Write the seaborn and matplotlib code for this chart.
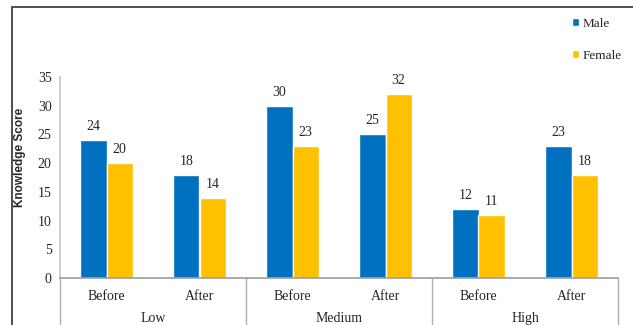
import matplotlib
matplotlib.use("Agg")
import matplotlib.pyplot as plt
import seaborn as sns
import pandas as pd
from matplotlib.patches import Rectangle

groups = ["Low", "Medium", "High"]
phases = ["Before", "After"]
male = [24, 18, 30, 25, 12, 23]
female = [20, 14, 23, 32, 11, 18]
y_ticks = [0, 5, 10, 15, 20, 25, 30, 35]

cats = [f"{g}-{p}" for g in groups for p in phases]
df = pd.DataFrame({
    "cat": cats * 2,
    "score": male + female,
    "sex": ["Male"] * 6 + ["Female"] * 6,
})

sns.set_theme(style="white")
plt.rcParams["font.family"] = ["Liberation Serif", "DejaVu Serif"]

fig = plt.figure(figsize=(6.33, 3.25), dpi=100)
ax = fig.add_axes([60 / 633, (325 - 278) / 325, (618 - 60) / 633, (278 - 77) / 325])

sns.barplot(data=df, x="cat", y="score", hue="sex", order=cats,
            hue_order=["Male", "Female"], palette=["#0070C0", "#FFC000"],
            width=0.56, gap=0, ax=ax, legend=True, saturation=1)

ax.set_ylim(0, 35)
ax.set_yticks(y_ticks)
ax.set_yticklabels([str(t) for t in y_ticks], fontsize=10)
ax.set_xlim(-0.5, 5.5)
ax.set_xticks(range(6))
ax.set_xticklabels(phases * 3, fontsize=10)
ax.tick_params(axis="both", length=0, pad=6)
ax.tick_params(axis="x", pad=9)
ax.set_xlabel("")
ax.set_ylabel("")
for s in ["top", "right"]:
    ax.spines[s].set_visible(False)
ax.spines["left"].set_color("#c8c8c8")
ax.spines["bottom"].set_color("#a0a0a0")

for cont in ax.containers:
    ax.bar_label(cont, fontsize=10, padding=5)

# group separators and labels
for xs in [-0.5, 1.5, 3.5, 5.5]:
    ax.plot([xs, xs], [0, -0.35], transform=ax.get_xaxis_transform(),
            color="#b0b0b0", lw=1, clip_on=False)
for i, g in enumerate(groups):
    ax.text(2 * i + 0.5, -0.2, g, transform=ax.get_xaxis_transform(),
            ha="center", va="center", fontsize=10)

leg = ax.legend(loc="upper left", bbox_to_anchor=(560 / 633, 1 - 6 / 325),
                bbox_transform=fig.transFigure, frameon=False,
                handlelength=0.55, handleheight=0.55, handletextpad=0.3,
                labelspacing=1.5, fontsize=9.5)

fig.text(20 / 633, 1 - 157 / 325, "Knowledge Score", rotation=90,
         ha="center", va="center", fontsize=8.5, fontweight="bold",
         family=["Liberation Sans", "DejaVu Sans"])

fig.patches.append(Rectangle((12 / 633, -0.1), 1.2, 1.1 - 7 / 325,
                             transform=fig.transFigure, fill=False,
                             edgecolor="#404040", lw=1.3))

fig.savefig("out.png", dpi=100)
